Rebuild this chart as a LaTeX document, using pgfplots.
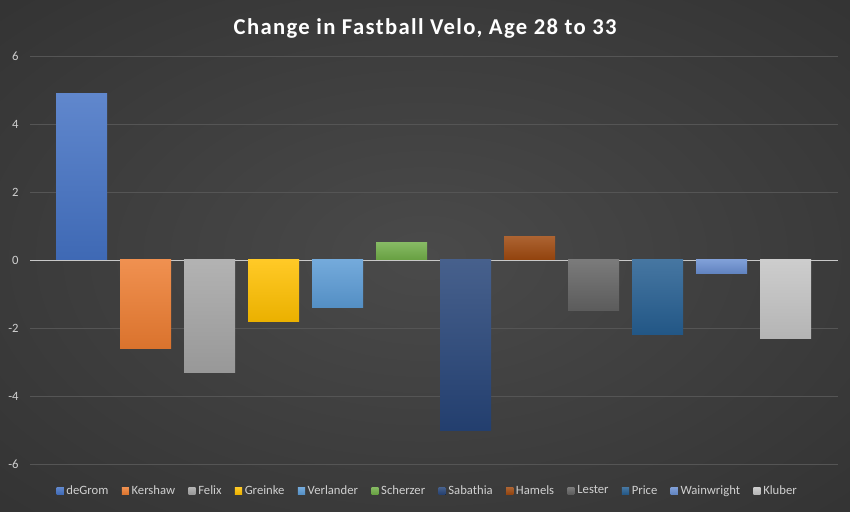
\documentclass[border=0pt]{standalone}
\usepackage{pgfplots}
\pgfplotsset{compat=1.18}
\usepackage{fontspec}
\setmainfont{Carlito}
\newfontfamily\titlefont[LetterSpace=6]{Carlito}
\definecolor{cdeg}{HTML}{4472C4}
\definecolor{cker}{HTML}{ED7D31}
\definecolor{cfel}{HTML}{A5A5A5}
\definecolor{cgre}{HTML}{FFC000}
\definecolor{cver}{HTML}{5B9BD5}
\definecolor{csch}{HTML}{70AD47}
\definecolor{csab}{HTML}{264478}
\definecolor{cham}{HTML}{9E480E}
\definecolor{cles}{HTML}{636363}
\definecolor{cpri}{HTML}{255E91}
\definecolor{cwai}{HTML}{698ED0}
\definecolor{cklu}{HTML}{C4C4C4}
\definecolor{bgin}{HTML}{4A4A4A}
\definecolor{bgout}{HTML}{242424}
\definecolor{gridcol}{HTML}{555555}
\definecolor{zerocol}{HTML}{C8C8C8}
\definecolor{lblcol}{HTML}{D0D0D0}
\pgfdeclareradialshading{bgshade}{\pgfpoint{0bp}{0bp}}{color(0bp)=(bgin); color(60bp)=(bgout)}
\begin{document}
\begin{tikzpicture}
\useasboundingbox (0,0) rectangle (637.5pt,383.25pt);
\shade[shading=bgshade] (0,0) rectangle (637.5pt,383.25pt);
\begin{axis}[
  at={(22.5pt,35.25pt)}, anchor=south west,
  scale only axis, width=606pt, height=306pt,
  ymin=-6, ymax=6, xmin=-0.805, xmax=11.82,
  ytick={-6,-4,-2,2,4,6},
  extra y ticks={0}, extra y tick labels={0},
  extra y tick style={grid style={draw=zerocol, line width=0.5pt}},
  xtick=\empty,
  axis line style={draw=none},
  major tick length=0pt,
  ymajorgrids,
  grid style={draw=gridcol, line width=0.6pt},
  /pgf/number format/assume math mode=true,
  yticklabel style={font=\fontsize{9.5}{11}\selectfont, text=lblcol, xshift=-5pt},
  title={Change in Fastball Velo, Age 28 to 33},
  title style={at={(0.489,1.049)}, anchor=center, yshift=0pt, font=\titlefont\bfseries\fontsize{17}{19}\selectfont, text=white},
  legend columns=-1,
  legend style={at={(0.4926,-0.066)}, anchor=center, draw=none, fill=none,
    font=\fontsize{9.5}{11}\selectfont, text=lblcol,
    /tikz/every even column/.append style={column sep=8pt}},
  legend image code/.code={\fill[#1] (0pt,-2.7pt) rectangle (5.4pt,2.7pt);},
  mybar/.style={ybar, bar width=0.797, bar shift=0pt, draw=none, top color=#1!85!white, bottom color=#1!92!black},
]
\addplot[mybar=cdeg] coordinates {(0,4.9)};
\addlegendentry{deGrom}
\addplot[mybar=cker] coordinates {(1,-2.6)};
\addlegendentry{Kershaw}
\addplot[mybar=cfel] coordinates {(2,-3.3)};
\addlegendentry{Felix}
\addplot[mybar=cgre] coordinates {(3,-1.8)};
\addlegendentry{Greinke}
\addplot[mybar=cver] coordinates {(4,-1.4)};
\addlegendentry{Verlander}
\addplot[mybar=csch] coordinates {(5,0.5)};
\addlegendentry{Scherzer}
\addplot[mybar=csab] coordinates {(6,-5.0)};
\addlegendentry{Sabathia}
\addplot[mybar=cham] coordinates {(7,0.7)};
\addlegendentry{Hamels}
\addplot[mybar=cles] coordinates {(8,-1.5)};
\addlegendentry{Lester}
\addplot[mybar=cpri] coordinates {(9,-2.2)};
\addlegendentry{Price}
\addplot[mybar=cwai] coordinates {(10,-0.4)};
\addlegendentry{Wainwright}
\addplot[mybar=cklu] coordinates {(11,-2.3)};
\addlegendentry{Kluber}
\end{axis}
\end{tikzpicture}
\end{document}
